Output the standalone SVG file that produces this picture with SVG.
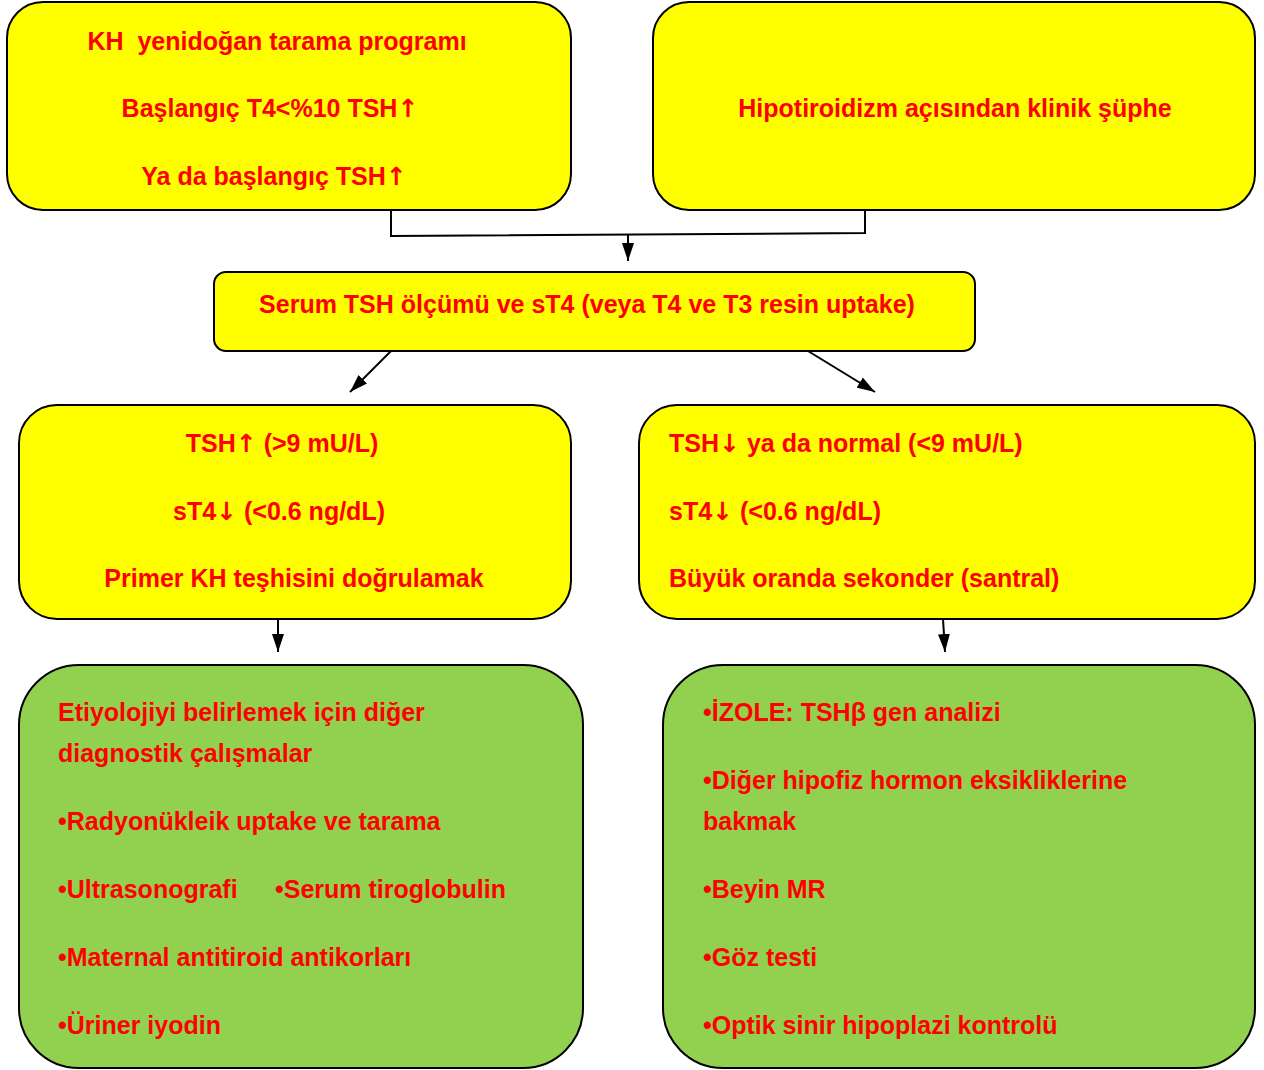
<svg xmlns="http://www.w3.org/2000/svg" width="1264" height="1070" viewBox="0 0 1264 1070">
<defs>
<marker id="ah" viewBox="0 0 18 12" refX="18" refY="6" markerWidth="18" markerHeight="12" markerUnits="userSpaceOnUse" orient="auto">
<path d="M0,0 L18,6 L0,12 z" fill="#000"/>
</marker>
<style>
.y{fill:#FFFF00;stroke:#000;stroke-width:2}
.g{fill:#92D050;stroke:#000;stroke-width:2}
.t{font-family:"Liberation Sans",Arial,sans-serif;font-weight:bold;font-size:25px;fill:#FF0000;white-space:pre}
.c{text-anchor:middle}
.a{font-family:"DejaVu Sans",sans-serif;font-weight:bold}
.ln{fill:none;stroke:#000;stroke-width:2}
</style>
</defs>
<rect width="1264" height="1070" fill="#fff"/>
<g id="connectors">
<polyline class="ln" points="391,210 391,236 865,233 865,210"/>
<line class="ln" x1="628" y1="235" x2="628" y2="261" marker-end="url(#ah)"/>
<line class="ln" x1="391" y1="351" x2="350" y2="392" marker-end="url(#ah)"/>
<line class="ln" x1="808" y1="351" x2="875" y2="392" marker-end="url(#ah)"/>
<line class="ln" x1="278" y1="619" x2="278" y2="652" marker-end="url(#ah)"/>
<line class="ln" x1="943" y1="619" x2="945" y2="652" marker-end="url(#ah)"/>
</g>
<g id="n1">
<rect class="y" x="7" y="2" width="564" height="208" rx="36"/>
<text class="t c" x="277" y="50" xml:space="preserve">KH  yenidoğan tarama programı</text>
<text class="t c" x="270" y="117">Başlangıç T4&lt;%10 TSH<tspan class="a">↑</tspan></text>
<text class="t c" x="274" y="185">Ya da başlangıç TSH<tspan class="a">↑</tspan></text>
</g>
<g id="n2">
<rect class="y" x="653" y="2" width="602" height="208" rx="36"/>
<text class="t c" x="955" y="117">Hipotiroidizm açısından klinik şüphe</text>
</g>
<g id="n3">
<rect class="y" x="214" y="272" width="761" height="79" rx="12"/>
<text class="t c" x="587" y="313">Serum TSH ölçümü ve sT4 (veya T4 ve T3 resin uptake)</text>
</g>
<g id="n4">
<rect class="y" x="19" y="405" width="552" height="214" rx="38"/>
<text class="t c" x="282" y="452">TSH<tspan class="a">↑</tspan> (&gt;9 mU/L)</text>
<text class="t c" x="279" y="520">sT4<tspan class="a">↓</tspan> (&lt;0.6 ng/dL)</text>
<text class="t c" x="294" y="587">Primer KH teşhisini doğrulamak</text>
</g>
<g id="n5">
<rect class="y" x="639" y="405" width="616" height="214" rx="38"/>
<text class="t" x="669" y="452">TSH<tspan class="a">↓</tspan> ya da normal (&lt;9 mU/L)</text>
<text class="t" x="669" y="520">sT4<tspan class="a">↓</tspan> (&lt;0.6 ng/dL)</text>
<text class="t" x="669" y="587">Büyük oranda sekonder (santral)</text>
</g>
<g id="n6">
<rect class="g" x="19" y="665" width="564" height="403" rx="60"/>
<text class="t" x="58" y="721">Etiyolojiyi belirlemek için diğer</text>
<text class="t" x="58" y="762">diagnostik çalışmalar</text>
<text class="t" x="58" y="830">•Radyonükleik uptake ve tarama</text>
<text class="t" x="58" y="898">•Ultrasonografi</text>
<text class="t" x="275" y="898">•Serum tiroglobulin</text>
<text class="t" x="58" y="966">•Maternal antitiroid antikorları</text>
<text class="t" x="58" y="1034">•Üriner iyodin</text>
</g>
<g id="n7">
<rect class="g" x="663" y="665" width="592" height="403" rx="60"/>
<text class="t" x="703" y="721">•İZOLE: TSHβ gen analizi</text>
<text class="t" x="703" y="789">•Diğer hipofiz hormon eksikliklerine</text>
<text class="t" x="703" y="830">bakmak</text>
<text class="t" x="703" y="898">•Beyin MR</text>
<text class="t" x="703" y="966">•Göz testi</text>
<text class="t" x="703" y="1034">•Optik sinir hipoplazi kontrolü</text>
</g>
</svg>
